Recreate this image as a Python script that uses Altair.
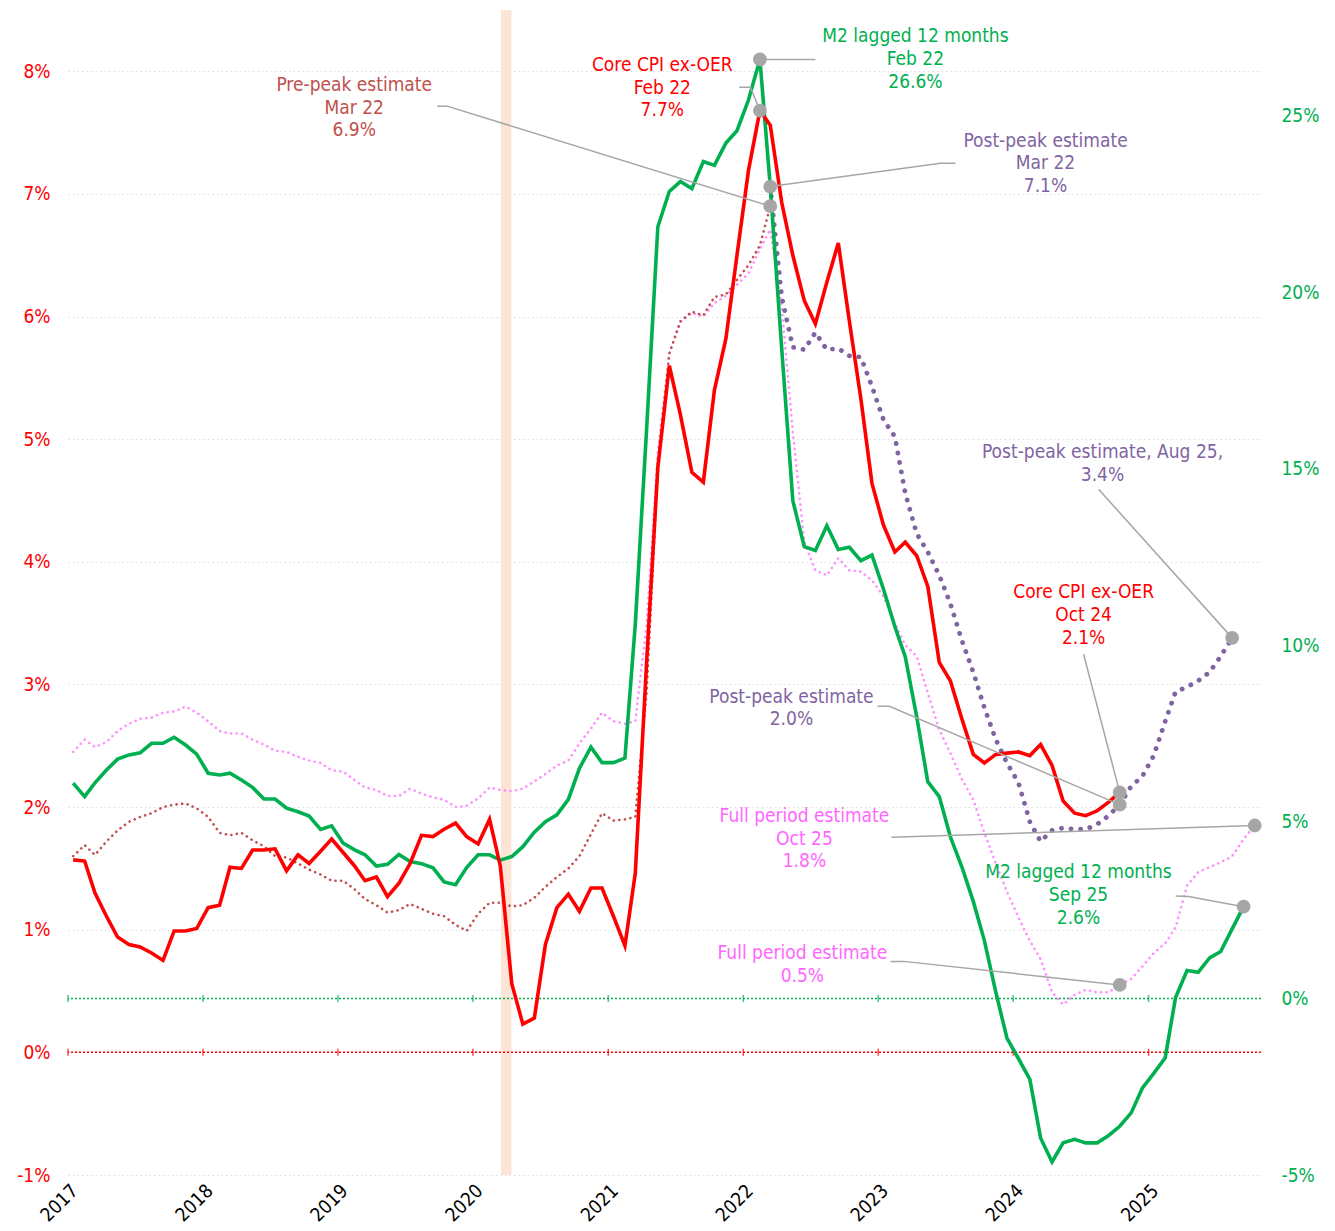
import altair as alt
import pandas as pd

# ---------------- data (monthly) ----------------
years = [2017, 2018, 2019, 2020, 2021, 2022, 2023, 2024, 2025]
left_ticks = [-1, 0, 1, 2, 3, 4, 5, 6, 7, 8]
right_ticks = [-5, 0, 5, 10, 15, 20, 25]

# Core CPI ex-OER, Jan 2017 - Oct 2024 (left axis, %)
core_start = "2017-01"
core_cpi = [1.57, 1.56, 1.30, 1.11, 0.94, 0.88, 0.86, 0.81, 0.75, 0.99, 0.99, 1.01,
            1.18, 1.20, 1.51, 1.50, 1.65, 1.65, 1.66, 1.48, 1.61, 1.54, 1.64, 1.74,
            1.63, 1.52, 1.40, 1.43, 1.27, 1.38, 1.54, 1.77, 1.76, 1.82, 1.87, 1.76,
            1.70, 1.90, 1.52, 0.56, 0.23, 0.28, 0.88, 1.18, 1.29, 1.15, 1.34, 1.34,
            1.11, 0.87, 1.46, 3.20, 4.77, 5.60, 5.20, 4.73, 4.65, 5.40, 5.82, 6.50,
            7.19, 7.68, 7.56, 6.93, 6.50, 6.13, 5.94, 6.28, 6.60, 5.96, 5.33, 4.64,
            4.30, 4.08, 4.16, 4.05, 3.80, 3.18, 3.03, 2.72, 2.43, 2.36, 2.43, 2.44,
            2.45, 2.42, 2.51, 2.34, 2.05, 1.95, 1.93, 1.97, 2.04, 2.12]

# M2 lagged 12 months, Jan 2017 - Sep 2025 (right axis, %)
m2_start = "2017-01"
m2_lagged = [6.10, 5.72, 6.11, 6.47, 6.78, 6.90, 6.96, 7.23, 7.23, 7.40, 7.18, 6.92,
             6.38, 6.33, 6.38, 6.19, 5.98, 5.65, 5.65, 5.39, 5.29, 5.17, 4.79, 4.89,
             4.40, 4.21, 4.07, 3.75, 3.80, 4.08, 3.88, 3.82, 3.70, 3.30, 3.22, 3.71,
             4.07, 4.07, 3.92, 4.02, 4.30, 4.71, 5.01, 5.20, 5.64, 6.52, 7.12, 6.68,
             6.68, 6.81, 10.6, 16.2, 21.86, 22.86, 23.14, 22.94, 23.71, 23.60, 24.23, 24.58,
             25.45, 26.6, 23.0, 18.4, 14.1, 12.80, 12.69, 13.39, 12.72, 12.78, 12.40, 12.56,
             11.6, 10.53, 9.68, 7.98, 6.14, 5.72, 4.58, 3.73, 2.75, 1.64, 0.17, -1.12,
             -1.70, -2.29, -3.95, -4.63, -4.09, -3.99, -4.09, -4.09, -3.88, -3.62, -3.24, -2.54,
             -2.12, -1.68, 0.03, 0.79, 0.74, 1.15, 1.33, 1.97, 2.60]

# Full period estimate, Jan 2017 - Oct 2025 (left axis, %)
full_start = "2017-01"
full_period = [2.45, 2.55, 2.49, 2.53, 2.62, 2.68, 2.72, 2.73, 2.77, 2.78, 2.82, 2.77,
               2.70, 2.62, 2.60, 2.60, 2.55, 2.51, 2.46, 2.45, 2.41, 2.38, 2.36, 2.30,
               2.29, 2.22, 2.16, 2.14, 2.09, 2.09, 2.15, 2.11, 2.08, 2.06, 2.00, 2.01,
               2.07, 2.16, 2.14, 2.13, 2.15, 2.21, 2.27, 2.34, 2.38, 2.52, 2.64, 2.77,
               2.70, 2.68, 2.70, 3.50, 4.90, 5.70, 5.96, 6.03, 6.00, 6.11, 6.17, 6.26,
               6.35, 6.55, 6.71, 6.08, 5.06, 4.16, 3.93, 3.89, 4.03, 3.93, 3.92, 3.85,
               3.72, 3.50, 3.32, 3.23, 2.93, 2.63, 2.44, 2.23, 2.06, 1.79, 1.54, 1.31,
               1.10, 0.91, 0.76, 0.49, 0.39, 0.47, 0.51, 0.49, 0.49, 0.55, 0.60, 0.70,
               0.81, 0.89, 1.02, 1.36, 1.47, 1.51, 1.55, 1.60, 1.74, 1.85]

# Pre-peak estimate, Jan 2017 - Mar 2022 (left axis, %)
pre_start = "2017-01"
pre_peak = [1.60, 1.69, 1.61, 1.72, 1.81, 1.88, 1.92, 1.95, 2.00, 2.02, 2.03, 1.99,
            1.92, 1.79, 1.77, 1.79, 1.73, 1.68, 1.60, 1.59, 1.54, 1.49, 1.45, 1.40,
            1.40, 1.33, 1.25, 1.20, 1.14, 1.16, 1.21, 1.17, 1.13, 1.11, 1.04, 0.99,
            1.13, 1.22, 1.22, 1.19, 1.20, 1.26, 1.35, 1.43, 1.50, 1.60, 1.78, 1.95,
            1.89, 1.90, 1.92, 2.95, 4.77, 5.70, 5.96, 6.04, 6.01, 6.16, 6.18, 6.30,
            6.42, 6.58, 6.90]

# Post-peak estimate, Mar 2022 - Aug 2025 (left axis, %)
post_start = "2022-03"
post_peak = [7.06, 6.16, 5.75, 5.73, 5.87, 5.73, 5.74, 5.68, 5.67, 5.43,
             5.16, 5.02, 4.56, 4.23, 4.08, 3.89, 3.66, 3.36, 3.10, 2.81, 2.55, 2.36,
             2.20, 1.88, 1.72, 1.81, 1.83, 1.82, 1.82, 1.86, 1.93, 2.02, 2.17, 2.25,
             2.42, 2.70, 2.94, 2.98, 3.03, 3.10, 3.23, 3.38]

covid_band = ["2020-03-17", "2020-04-14"]

# Annotation text lines: (fractional year, left-axis value, text, colour)
ann_year = [2019.119, 2019.119, 2019.119,
            2021.400, 2021.400, 2021.400,
            2023.274, 2023.274, 2023.274,
            2024.237, 2024.237, 2024.237,
            2024.659, 2024.659,
            2024.519, 2024.519, 2024.519,
            2022.356, 2022.356,
            2022.452, 2022.452, 2022.452,
            2024.481, 2024.481, 2024.481,
            2022.437, 2022.437]
ann_value = [7.887, 7.700, 7.520,
             8.051, 7.863, 7.684,
             8.287, 8.100, 7.912,
             7.431, 7.251, 7.064,
             4.894, 4.706,
             3.752, 3.564, 3.377,
             2.896, 2.716,
             1.925, 1.737, 1.558,
             1.468, 1.281, 1.093,
             0.808, 0.620]
ann_text = ["Pre-peak estimate", "Mar 22", "6.9%",
            "Core CPI ex-OER", "Feb 22", "7.7%",
            "M2 lagged 12 months", "Feb 22", "26.6%",
            "Post-peak estimate", "Mar 22", "7.1%",
            "Post-peak estimate, Aug 25,", "3.4%",
            "Core CPI ex-OER", "Oct 24", "2.1%",
            "Post-peak estimate", "2.0%",
            "Full period estimate", "Oct 25", "1.8%",
            "M2 lagged 12 months", "Sep 25", "2.6%",
            "Full period estimate", "0.5%"]
ann_color = ["#C0504D"] * 3 + ["#FF0000"] * 3 + ["#00B050"] * 3 + ["#8064A2"] * 3 + \
            ["#8064A2"] * 2 + ["#FF0000"] * 3 + ["#8064A2"] * 2 + ["#FF66FF"] * 3 + \
            ["#00B050"] * 3 + ["#FF66FF"] * 2

# Connectors: (series, month of highlighted point, leader start points in (year, value))
conn_left = [("pre", "2022-03", [(2019.733, 7.716), (2019.807, 7.716)]),
             ("core", "2022-02", [(2021.970, 7.871), (2022.052, 7.871)]),
             ("post", "2022-03", [(2023.570, 7.251), (2023.459, 7.251)]),
             ("post", "2025-08", [(2024.630, 4.592)]),
             ("core", "2024-10", [(2024.519, 3.246)]),
             ("post", "2024-10", [(2022.993, 2.822), (2023.081, 2.822)]),
             ("full", "2025-10", [(2023.096, 1.754)]),
             ("full", "2024-10", [(2023.089, 0.742), (2023.185, 0.742)])]
conn_right = [("m2", "2022-02", [(2022.533, 26.6)]),
              ("m2", "2025-09", [(2025.200, 2.904), (2025.296, 2.89)])]

# ---------------- styling ----------------
FONT = "'Liberation Sans Narrow', 'DejaVu Sans Condensed', 'Liberation Sans', sans-serif"
RED = "#FF0000"
GREEN = "#00B050"
BROWN = "#C0504D"
PINK = "#FF8FFF"
PURPLE = "#8064A2"
GREY = "#A6A6A6"


def iso(ts):
    return ts.strftime("%Y-%m-%dT%H:%M:%SZ")


def series(start, vals):
    d = pd.date_range(start + "-01", periods=len(vals), freq="MS") + pd.Timedelta(days=14)
    return pd.DataFrame({"date": [iso(t) for t in d], "month": d.strftime("%Y-%m"), "v": vals})


def yr(y):
    return iso(pd.Timestamp("2017-01-01") + pd.Timedelta(days=(y - 2017) * 365.25))


S = {"core": series(core_start, core_cpi),
     "m2": series(m2_start, m2_lagged),
     "full": series(full_start, full_period),
     "pre": series(pre_start, pre_peak),
     "post": series(post_start, post_peak)}


def point(name, month):
    row = S[name][S[name]["month"] == month].iloc[0]
    return row["date"], float(row["v"])


xscale = alt.Scale(type="utc", nice=False,
                   domain=[alt.DateTime(year=2017, month=1, date=1, utc=True),
                           alt.DateTime(year=2025, month=11, date=1, utc=True)])
xaxis = alt.Axis(values=[alt.DateTime(year=y, month=1, date=1, utc=True) for y in years],
                 format="%Y", formatType="utc", labelAngle=315, labelColor="black",
                 labelFont=FONT, labelFontSize=19, domain=False, ticks=False, grid=False,
                 labelPadding=6)
lscale = alt.Scale(domain=[-1, 8.5], nice=False, zero=False)
rscale = alt.Scale(domain=[-5, 28], nice=False, zero=False)


def X(field="date"):
    return alt.X(f"{field}:T", scale=xscale, axis=xaxis, title=None)


def YL(field="v", axis=None):
    return alt.Y(f"{field}:Q", scale=lscale, axis=axis, title=None)


def YR(field="v", axis=None):
    return alt.Y(f"{field}:Q", scale=rscale, axis=axis, title=None)


left_axis = alt.Axis(values=left_ticks, labelExpr="datum.value + '%'", labelColor=RED,
                     labelFont=FONT, labelFontSize=19, domain=False, ticks=False,
                     grid=True, gridColor="#DDDDDD", gridDash=[1.5, 3], gridWidth=1,
                     labelPadding=18)
right_axis = alt.Axis(orient="right", values=right_ticks, labelExpr="datum.value + '%'",
                      labelColor=GREEN, labelFont=FONT, labelFontSize=19, domain=False,
                      ticks=False, grid=False, labelPadding=20)

layers = []

# COVID band
band_df = pd.DataFrame({"s": [covid_band[0] + "T00:00:00Z"], "e": [covid_band[1] + "T00:00:00Z"]})
layers.append(alt.Chart(band_df).mark_rect(color="#FCE4D6").encode(
    x=X("s"), x2=alt.X2("e:T")))

# zero lines with axes
zero_df = pd.DataFrame({"v": [0]})
layers.append(alt.Chart(zero_df).mark_rule(color=RED, strokeDash=[2, 2], strokeWidth=1.5)
              .encode(y=YL(axis=left_axis)))
layers.append(alt.Chart(zero_df).mark_rule(color=GREEN, strokeDash=[2, 2], strokeWidth=1.5)
              .encode(y=YR(axis=right_axis)))

tick_df = pd.DataFrame({"date": [f"{y}-01-01T00:00:00Z" for y in years], "v": [0] * len(years)})
layers.append(alt.Chart(tick_df).mark_tick(color=RED, orient="vertical", size=7, thickness=1.5)
              .encode(x=X(), y=YL()))
layers.append(alt.Chart(tick_df).mark_tick(color=GREEN, orient="vertical", size=7, thickness=1.5)
              .encode(x=X(), y=YR()))

# dotted estimate lines
layers.append(alt.Chart(S["full"]).mark_line(color=PINK, strokeWidth=2.6, strokeDash=[0.1, 5.5],
                                             strokeCap="round").encode(x=X(), y=YL()))
layers.append(alt.Chart(S["pre"]).mark_line(color=BROWN, strokeWidth=2.6, strokeDash=[0.1, 5.5],
                                            strokeCap="round").encode(x=X(), y=YL()))
layers.append(alt.Chart(S["post"]).mark_line(color=PURPLE, strokeWidth=4.8, strokeDash=[0.1, 9.5],
                                             strokeCap="round").encode(x=X(), y=YL()))
# solid lines
layers.append(alt.Chart(S["m2"]).mark_line(color=GREEN, strokeWidth=3.6).encode(x=X(), y=YR()))
layers.append(alt.Chart(S["core"]).mark_line(color=RED, strokeWidth=3.6).encode(x=X(), y=YL()))

# connectors
def conn_frame(conns):
    rows = []
    for i, (name, month, starts) in enumerate(conns):
        k = 0
        for (y, v) in starts:
            rows.append({"cid": i, "ord": k, "date": yr(y), "v": v})
            k += 1
        d, v = point(name, month)
        rows.append({"cid": i, "ord": k, "date": d, "v": v})
    return pd.DataFrame(rows)


layers.append(alt.Chart(conn_frame(conn_left)).mark_line(color=GREY, strokeWidth=1.5).encode(
    x=X(), y=YL(), detail="cid:N", order="ord:Q"))
layers.append(alt.Chart(conn_frame(conn_right)).mark_line(color=GREY, strokeWidth=1.5).encode(
    x=X(), y=YR(), detail="cid:N", order="ord:Q"))

# highlighted points
dl = pd.DataFrame([dict(zip(["date", "v"], point(n, m))) for n, m, _ in conn_left])
dr = pd.DataFrame([dict(zip(["date", "v"], point(n, m))) for n, m, _ in conn_right])
layers.append(alt.Chart(dl).mark_circle(color=GREY, opacity=1, size=190).encode(x=X(), y=YL()))
layers.append(alt.Chart(dr).mark_circle(color=GREY, opacity=1, size=190).encode(x=X(), y=YR()))

# annotation text
ann_df = pd.DataFrame({"date": [yr(y) for y in ann_year], "v": ann_value,
                       "t": ann_text, "c": ann_color})
layers.append(alt.Chart(ann_df).mark_text(font=FONT, fontSize=19, align="center",
                                          baseline="middle").encode(
    x=X(), y=YL(), text="t:N", color=alt.Color("c:N", scale=None)))

chart = alt.layer(*layers).resolve_scale(y="independent").properties(
    width=1193, height=1165,
    autosize=alt.AutoSizeParams(type="none"),
    padding={"left": 60, "top": 2, "right": 66, "bottom": 50},
    background="white",
).configure_view(stroke=None)

chart.save("out.html", embed_options={"renderer": "svg", "actions": False})
